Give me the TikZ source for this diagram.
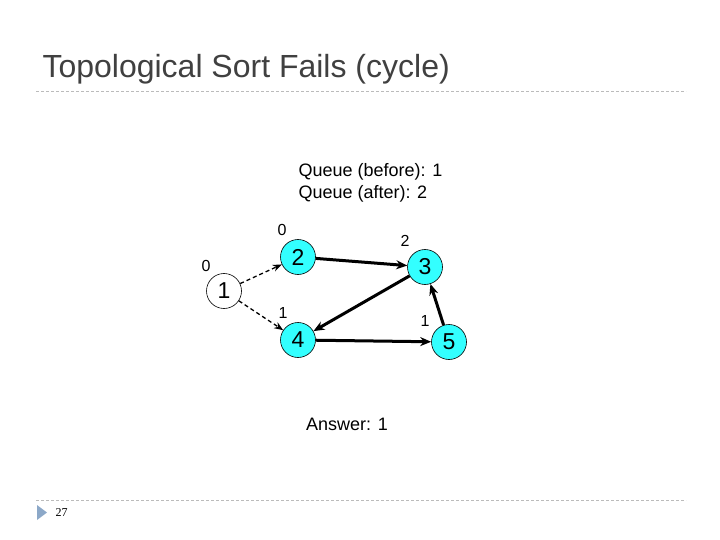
\documentclass[tikz,border=0pt]{standalone}
\usepackage{fontspec}
\setmainfont{Liberation Sans}
\newfontfamily\numfont{Liberation Serif}
\usetikzlibrary{arrows.meta,positioning}
\definecolor{cTitle}{HTML}{404040}
\definecolor{cRule}{HTML}{BBBBBB}
\definecolor{cNode}{HTML}{33FFFF}
\definecolor{cMark}{HTML}{8CA8C8}

\begin{document}
\begin{tikzpicture}[
  x=1pt,y=-1pt,
  vtx/.style={circle,draw,line width=0.6pt,minimum size=35pt,inner sep=0pt,font=\fontsize{23}{23}\selectfont},
  done/.style={vtx,fill=cNode},
  deg/.style={font=\fontsize{16}{16}\selectfont},
  edge/.style={-{Stealth[length=11pt,width=9pt]},line width=3pt},
  probe/.style={-{Stealth[length=9pt,width=7pt]},line width=1.3pt,dash pattern=on 4pt off 3pt},
  rule/.style={cRule,line width=0.6pt,dash pattern=on 3pt off 2pt},
]
\useasboundingbox (0,0) rectangle (720,540);

% ====================================================== title and page frame
\node[anchor=west,text=cTitle,font=\fontsize{32}{32}\selectfont] (title) at (39,69) {Topological Sort Fails (cycle)};
\coordinate (ruleTL) at (36,91);
\coordinate (ruleTR) at (686,91);
\coordinate (ruleBL) at (36,500);
\coordinate (ruleBR) at (686,500);
\draw[rule] (ruleTL) -- (ruleTR);
\draw[rule] (ruleBL) -- (ruleBR);
\fill[cMark] (37,505) -- (47,512.5) -- (37,520) -- cycle;
\node[anchor=west,font=\numfont\fontsize{12}{12}\selectfont] (page) at (52,513) {27};

% queue state
\node[anchor=west,align=left,font=\fontsize{18}{22}\selectfont] (queue) at (295,183)
  {Queue (before): 1\\Queue (after): 2};

% graph
\node[vtx]  (n1) at (224,291) {1};
\node[done] (n2) at (298,257) {2};
\node[done] (n3) at (425,267) {3};
\node[done] (n4) at (298,340) {4};
\node[done] (n5) at (449,342) {5};

% in-degrees
\node[deg] (d1) at (206,266) {0};
\node[deg] (d2) at (282,230) {0};
\node[deg] (d3) at (405,241) {2};
\node[deg] (d4) at (283,313) {1};
\node[deg] (d5) at (425,321) {1};

% edges
\draw[probe] (n1) -- (n2);
\draw[probe] (n1) -- (n4);
\draw[edge] (n2) -- (n3);
\draw[edge] (n3) -- (n4);
\draw[edge] (n4) -- (n5);
\draw[edge] (n5) -- (n3);

\node[font=\fontsize{18}{18}\selectfont] (answer) at (347,424) {Answer: 1};

\end{tikzpicture}
\end{document}
